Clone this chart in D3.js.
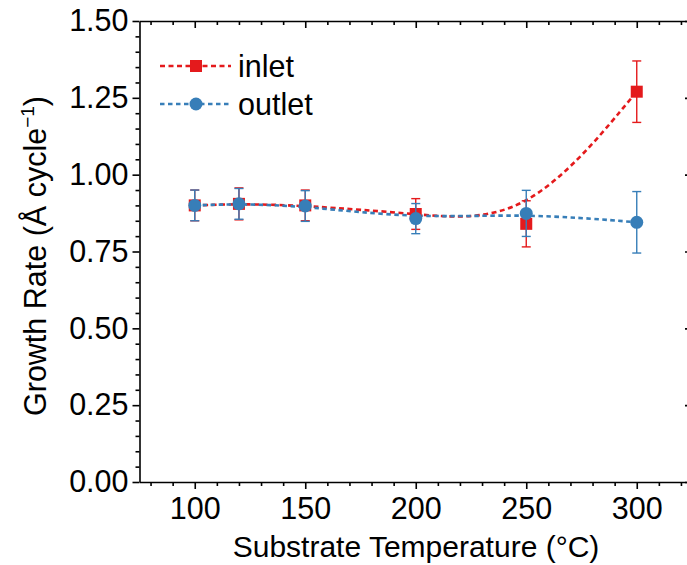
<!DOCTYPE html>
<html>
<head>
<meta charset="utf-8">
<script src="https://cdn.jsdelivr.net/npm/d3@7"></script>
<style>
  html, body { margin: 0; padding: 0; background: #fff; }
  svg { display: block; }
  text { font-family: Arial, "Liberation Sans", sans-serif; fill: #000; }
</style>
</head>
<body>
<svg id="chart" width="687" height="565"></svg>
<script>
// Substrate temperature (°C) and growth rate per cycle at the two reactor positions
const temps = [100, 120, 150, 200, 250, 300];
const inletRate = [0.900, 0.905, 0.900, 0.872, 0.840, 1.270];
const inletErr = [0.050, 0.052, 0.050, 0.050, 0.075, 0.100];
const outletRate = [0.900, 0.905, 0.898, 0.857, 0.874, 0.845];
const outletErr = [0.050, 0.050, 0.050, 0.049, 0.075, 0.100];

const xTickValues = [100, 150, 200, 250, 300];
const yTickValues = [0, 0.25, 0.5, 0.75, 1.0, 1.25, 1.5];
const yTickLabels = ["0.00", "0.25", "0.50", "0.75", "1.00", "1.25", "1.50"];

const seriesNames = ["inlet", "outlet"];
const seriesColors = ["#e41a1c", "#377eb8"];

const svg = d3.select("#chart");
const plotL = 139.5, plotR = 692, plotT = 21, plotB = 482;

const x = d3.scaleLinear().domain([75, 325]).range([plotL, plotR]);
const y = d3.scaleLinear().domain([0, 1.5]).range([plotB, plotT]);

const xMinor = d3.range(80, 325, 10).filter(v => !xTickValues.includes(v));
const yMinor = d3.range(0, 1.5001, 0.05).map(v => +v.toFixed(2)).filter(v => !yTickValues.some(t => Math.abs(t - v) < 1e-6));

const axisStroke = 1.6;
const fontFam = "Arial, 'Liberation Sans', sans-serif";
const labelSize = 30.5;
function styleAxis(g) {
  g.select(".domain").attr("stroke", "#000").attr("stroke-width", axisStroke);
  g.selectAll(".tick line").attr("stroke", "#000").attr("stroke-width", axisStroke);
}

// bottom axis: labelled major ticks plus minor ticks, pointing outward
const gBottom = svg.append("g").attr("transform", `translate(0,${plotB})`)
  .call(d3.axisBottom(x).tickValues(xTickValues).tickSize(7).tickSizeOuter(0).tickPadding(8));
gBottom.call(styleAxis);
gBottom.selectAll(".tick text").attr("font-size", labelSize).attr("font-family", fontFam);
svg.append("g").attr("transform", `translate(0,${plotB})`)
  .call(d3.axisBottom(x).tickValues(xMinor).tickSize(4).tickFormat(""))
  .call(g => g.select(".domain").remove())
  .call(styleAxis);

// top frame: ticks pointing inward
svg.append("g").attr("transform", `translate(0,${plotT})`)
  .call(d3.axisBottom(x).tickValues(xTickValues).tickSize(7).tickSizeOuter(0).tickFormat(""))
  .call(styleAxis);
svg.append("g").attr("transform", `translate(0,${plotT})`)
  .call(d3.axisBottom(x).tickValues(xMinor).tickSize(4).tickFormat(""))
  .call(g => g.select(".domain").remove())
  .call(styleAxis);

// left axis
const gLeft = svg.append("g").attr("transform", `translate(${plotL},0)`)
  .call(d3.axisLeft(y).tickValues(yTickValues).tickSize(7).tickSizeOuter(0).tickPadding(4)
    .tickFormat((d, i) => yTickLabels[i]));
gLeft.call(styleAxis);
gLeft.selectAll(".tick text").attr("font-size", labelSize).attr("font-family", fontFam);
svg.append("g").attr("transform", `translate(${plotL},0)`)
  .call(d3.axisLeft(y).tickValues(yMinor).tickSize(4).tickFormat(""))
  .call(g => g.select(".domain").remove())
  .call(styleAxis);

// right frame: ticks pointing inward
svg.append("g").attr("transform", `translate(${plotR},0)`)
  .call(d3.axisRight(y).tickValues(yTickValues).tickSize(-7).tickSizeOuter(0).tickFormat(""))
  .call(styleAxis);
svg.append("g").attr("transform", `translate(${plotR},0)`)
  .call(d3.axisRight(y).tickValues(yMinor).tickSize(-4).tickFormat(""))
  .call(g => g.select(".domain").remove())
  .call(styleAxis);

// axis titles
svg.append("text")
  .attr("x", 416).attr("y", 557)
  .attr("text-anchor", "middle").attr("font-size", 30)
  .text("Substrate Temperature (\u00b0C)");

const yTitle = svg.append("text")
  .attr("transform", `translate(46,256) rotate(-90)`)
  .attr("text-anchor", "middle").attr("font-size", 30.5);
yTitle.append("tspan").text("Growth Rate (\u00c5 cycle");
yTitle.append("tspan").attr("dy", -12).attr("font-size", 19).text("\u22121");
yTitle.append("tspan").attr("dy", 12).text(")");

// smoothed trend lines
const line = d3.line().x((d, i) => x(temps[i])).y(d => y(d)).curve(d3.curveBasis);
const rates = [inletRate, outletRate];
const errs = [inletErr, outletErr];
const dashes = ["5,3.5", "4.5,3.5"];

rates.forEach((r, s) => {
  svg.append("path")
    .attr("d", line(r))
    .attr("fill", "none")
    .attr("stroke", seriesColors[s])
    .attr("stroke-width", 2.6)
    .attr("stroke-dasharray", dashes[s]);
});

// error bars and markers
const cap = 4.5;
rates.forEach((r, s) => {
  const g = svg.append("g");
  const col = seriesColors[s];
  r.forEach((v, i) => {
    const cx = x(temps[i]);
    const y0 = y(v - errs[s][i]), y1 = y(v + errs[s][i]);
    g.append("line").attr("x1", cx).attr("x2", cx).attr("y1", y0).attr("y2", y1)
      .attr("stroke", col).attr("stroke-width", 1.4);
    [y0, y1].forEach(yy => g.append("line")
      .attr("x1", cx - cap).attr("x2", cx + cap).attr("y1", yy).attr("y2", yy)
      .attr("stroke", col).attr("stroke-width", 1.4));
  });
  r.forEach((v, i) => {
    const cx = x(temps[i]), cy = y(v);
    if (s === 0) {
      g.append("rect").attr("x", cx - 6).attr("y", cy - 6).attr("width", 12).attr("height", 12).attr("fill", col);
    } else {
      g.append("circle").attr("cx", cx).attr("cy", cy).attr("r", 6.5).attr("fill", col);
    }
  });
});

// legend
const legY = [66, 104];
seriesNames.forEach((name, s) => {
  const col = seriesColors[s];
  const ly = legY[s];
  svg.append("line").attr("x1", 160).attr("x2", 231).attr("y1", ly).attr("y2", ly)
    .attr("stroke", col).attr("stroke-width", 2.6).attr("stroke-dasharray", dashes[s]);
  if (s === 0) {
    svg.append("rect").attr("x", 196 - 6).attr("y", ly - 6).attr("width", 12).attr("height", 12).attr("fill", col);
  } else {
    svg.append("circle").attr("cx", 196).attr("cy", ly).attr("r", 6.5).attr("fill", col);
  }
  svg.append("text").attr("x", 238).attr("y", ly + 10.5).attr("font-size", 30.5).text(name);
});
</script>
</body>
</html>
